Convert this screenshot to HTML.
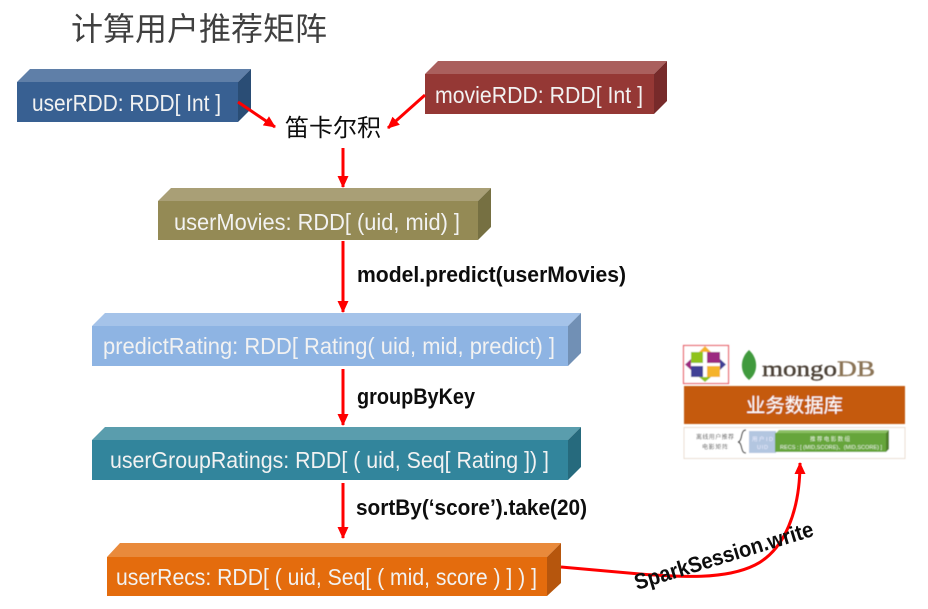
<!DOCTYPE html>
<html><head><meta charset="utf-8">
<style>
html,body{margin:0;padding:0;background:#fff;width:928px;height:609px;overflow:hidden}
svg{display:block}
.t{font-family:"Liberation Sans",sans-serif;font-size:23px;fill:#f2f2f2}
.b{font-family:"Liberation Sans",sans-serif;font-size:22px;font-weight:bold;fill:#111}
.c{font-family:"Liberation Sans","Noto Sans CJK SC",sans-serif}
</style></head><body>
<svg width="928" height="609" viewBox="0 0 928 609" xmlns="http://www.w3.org/2000/svg">
<defs>
<marker id="h" markerUnits="userSpaceOnUse" markerWidth="14" markerHeight="12" refX="11" refY="5.5" orient="auto"><path d="M0 0L12 5.5L0 11z" fill="#f00"/></marker>
<filter id="bl" x="-5%" y="-5%" width="110%" height="110%"><feGaussianBlur stdDeviation="0.5"/></filter>
<filter id="sf" x="-2%" y="-5%" width="104%" height="110%"><feGaussianBlur stdDeviation="0.3"/></filter>
</defs>

<g filter="url(#sf)">
<text class="c" x="71" y="40" font-size="32" fill="#404040" textLength="256" lengthAdjust="spacingAndGlyphs">计算用户推荐矩阵</text>

<!-- userRDD -->
<polygon points="17,82 30,69 251,69 238,82" fill="#5f7fa8"/><polygon points="238,82 251,69 251,109 238,122" fill="#2c4d75"/><rect x="17" y="82" width="221" height="40" fill="#376092"/>
<text class="t" x="32" y="111" textLength="189" lengthAdjust="spacingAndGlyphs">userRDD: RDD[ Int ]</text>
<!-- movieRDD -->
<polygon points="425,74 438,61 667,61 654,74" fill="#aa5f5d"/><polygon points="654,74 667,61 667,101 654,114" fill="#772c2a"/><rect x="425" y="74" width="229" height="40" fill="#953735"/>
<text class="t" x="435" y="103" textLength="208" lengthAdjust="spacingAndGlyphs">movieRDD: RDD[ Int ]</text>
<!-- userMovies -->
<polygon points="158,201 171,188 491,188 478,201" fill="#a99f76"/><polygon points="478,201 491,188 491,227 478,240" fill="#767043"/><rect x="158" y="201" width="320" height="39" fill="#948a54"/>
<text class="t" x="174" y="230" textLength="286" lengthAdjust="spacingAndGlyphs">userMovies: RDD[ (uid, mid) ]</text>
<!-- predictRating -->
<polygon points="92,326 105,313 581,313 568,326" fill="#a5c3e9"/><polygon points="568,326 581,313 581,353 568,366" fill="#7190b5"/><rect x="92" y="326" width="476" height="40" fill="#8eb4e3"/>
<text class="t" x="103" y="354" textLength="452" lengthAdjust="spacingAndGlyphs">predictRating: RDD[ Rating( uid, mid, predict) ]</text>
<!-- userGroupRatings -->
<polygon points="92,440 105,427 581,427 568,440" fill="#5a9dad"/><polygon points="568,440 581,427 581,467 568,480" fill="#276a7d"/><rect x="92" y="440" width="476" height="40" fill="#31859c"/>
<text class="t" x="110" y="468" textLength="439" lengthAdjust="spacingAndGlyphs">userGroupRatings: RDD[ ( uid, Seq[ Rating ]) ]</text>
<!-- userRecs -->
<polygon points="107,557 120,543 561,543 547,557" fill="#e98a3b"/><polygon points="547,557 561,543 561,583 547,596" fill="#b65608"/><rect x="107" y="557" width="440" height="39" fill="#e46c0a"/>
<text class="t" x="116" y="585" textLength="421" lengthAdjust="spacingAndGlyphs">userRecs: RDD[ ( uid, Seq[ ( mid, score ) ] ) ]</text>

<text class="c" x="285" y="136" font-size="24" fill="#111" textLength="96" lengthAdjust="spacingAndGlyphs">笛卡尔积</text>

<g fill="none" stroke="#f00" stroke-width="3" marker-end="url(#h)">
<path d="M238 102L275 127"/>
<path d="M425 95L388 128"/>
<path d="M343 148V187"/>
<path d="M343 241V312"/>
<path d="M343 369V425"/>
<path d="M343 483V538"/>
<path d="M561 567L640 574C680 577 725 580 755 565C785 550 800 510 800 463"/>
</g>

<text class="b" x="357" y="282" textLength="269" lengthAdjust="spacingAndGlyphs">model.predict(userMovies)</text>
<text class="b" x="357" y="404" textLength="118" lengthAdjust="spacingAndGlyphs">groupByKey</text>
<text class="b" x="356" y="515" textLength="231" lengthAdjust="spacingAndGlyphs">sortBy(‘score’).take(20)</text>
<text class="b" transform="translate(637 590) rotate(-17)" x="0" y="0" textLength="186" lengthAdjust="spacingAndGlyphs">SparkSession.write</text>
</g>

<!-- right panel -->
<g filter="url(#bl)">
<rect x="683.5" y="345.5" width="45" height="38" fill="#fff" stroke="#e8606a" stroke-width="1.2"/>
<rect x="691" y="352" width="12" height="11" fill="#8fc31f"/>
<rect x="707" y="352" width="13" height="11" fill="#9c2a80"/>
<rect x="691" y="366" width="12" height="11" fill="#3f3f96"/>
<rect x="707" y="366" width="13" height="11" fill="#f5b32a"/>
<polygon points="705,346 699,352 711,352" fill="#f5b32a"/>
<polygon points="726,364.500 720,359 720,370" fill="#3f3f96"/>
<polygon points="705,382 699,377 711,377" fill="#8fc31f"/>
<polygon points="685,364.500 691,359 691,370" fill="#9c2a80"/>
<path d="M749 350C758 358 759 372 749 380C739 372 740 358 749 350z" fill="#3f9a3c"/>
<text x="762" y="376" font-family="Liberation Serif,serif" font-size="22" fill="#4a3f35" stroke="#4a3f35" stroke-width="0.4" textLength="75" lengthAdjust="spacingAndGlyphs">mongo</text>
<text x="837" y="376" font-family="Liberation Serif,serif" font-size="22" fill="#8a7355" stroke="#8a7355" stroke-width="0.4" textLength="38" lengthAdjust="spacingAndGlyphs">DB</text>

<rect x="684" y="386" width="221" height="38" fill="#c55a11"/>
<text class="c" x="746" y="412" font-size="19.5" fill="#fff" textLength="97" lengthAdjust="spacingAndGlyphs">业务数据库</text>

<rect x="684" y="427.5" width="221" height="31" fill="#fff" stroke="#eaded2"/>
<text class="c" x="696" y="439" font-size="6" fill="#555" textLength="38">离线用户推荐</text>
<text class="c" x="702" y="449" font-size="6" fill="#555" textLength="26">电影矩阵</text>
<path d="M746 430C740 430 743 441 738 442C743 443 740 453 746 453" fill="none" stroke="#333" stroke-width="1.2"/>
<rect x="749" y="431" width="27" height="22" fill="#b3c6e0"/>
<polygon points="776,433 779,430 889,430 886,433" fill="#8cc063"/>
<polygon points="886,433 889,430 889,449 886,452" fill="#4f7f2a"/>
<rect x="775" y="433" width="111" height="19" fill="#66a53a"/>
<text class="c" x="752" y="441" font-size="5.500" fill="#eef" textLength="21">用户ID</text>
<text class="c" x="757" y="449" font-size="5.500" fill="#eef" textLength="11">UID</text>
<text class="c" x="810" y="441" font-size="5.500" fill="#eaf5e0" textLength="40">推荐电影数组</text>
<text class="c" x="780" y="449" font-size="5" fill="#eaf5e0" textLength="102" lengthAdjust="spacingAndGlyphs">RECS : [ (MID,SCORE)、(MID,SCORE) ]</text>
</g>
</svg>
</body></html>
